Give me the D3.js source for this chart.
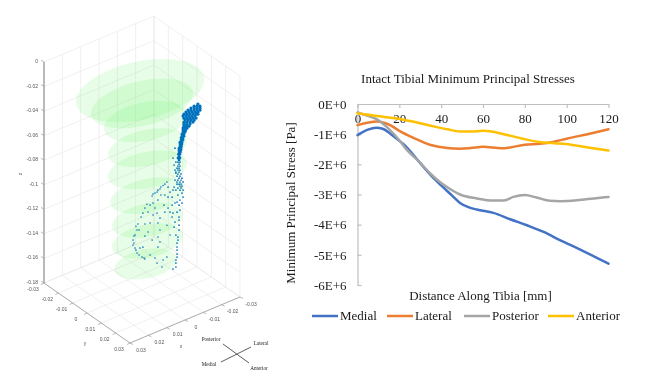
<!DOCTYPE html>
<html>
<head>
<meta charset="utf-8">
<script src="https://cdn.jsdelivr.net/npm/d3@7"></script>
<style>
    html, body { margin: 0; padding: 0; background: #fff; }
    svg { display: block; }
    .stress text { font-family: "Liberation Serif", serif; fill: #1a1a1a; }
    .stress .axis text { font-size: 13px; }
    .stress .axis line, .stress .axis path { stroke: #bfbfbf; stroke-width: 1.2; }
    .box text { font-family: "Liberation Sans", sans-serif; font-size: 5px; fill: #555; }
    .box .compass text { font-family: "Liberation Serif", serif; font-size: 5.2px; fill: #222; }
</style>
</head>
<body>
<svg id="chart" width="648" height="384"></svg>
<script>
//line chart values, stress in units of 1E+6 Pa
var medialDist = [0, 5, 9, 12, 16, 20, 22, 30, 35, 40, 45, 49, 53, 57, 65, 73, 81, 89, 97, 105, 113, 120];
var medialStress = [-1.03, -0.85, -0.79, -0.82, -1.0, -1.22, -1.33, -1.96, -2.36, -2.7, -3.02, -3.28, -3.42, -3.5, -3.61, -3.82, -4.02, -4.24, -4.52, -4.78, -5.05, -5.29];

var lateralDist = [0, 9.3, 15.6, 20, 27, 35, 43, 49, 54, 60, 69, 73, 80, 87, 94, 100, 110, 120];
var lateralStress = [-0.7, -0.58, -0.7, -0.89, -1.13, -1.36, -1.46, -1.48, -1.46, -1.42, -1.47, -1.44, -1.35, -1.32, -1.25, -1.15, -1.0, -0.84];

var posteriorDist = [0, 6, 9.3, 14.6, 20, 23, 30, 35, 40, 45, 49, 57, 65, 70, 74.5, 80, 85.6, 92, 97, 105, 113, 120];
var posteriorStress = [-0.28, -0.42, -0.51, -0.8, -1.2, -1.47, -1.95, -2.32, -2.62, -2.85, -3.0, -3.13, -3.2, -3.2, -3.08, -3.02, -3.1, -3.21, -3.22, -3.19, -3.13, -3.08];

var anteriorDist = [0, 9.3, 18, 27, 35, 43, 49, 54, 60, 70, 79, 87, 94, 102, 111, 120];
var anteriorStress = [-0.31, -0.4, -0.47, -0.59, -0.72, -0.84, -0.91, -0.91, -0.89, -1.0, -1.15, -1.26, -1.3, -1.35, -1.45, -1.54];

var seriesNames = ['Medial', 'Lateral', 'Posterior', 'Anterior'];
var seriesColors = ['#4472C4', '#ED7D31', '#A5A5A5', '#FFC000'];

var xTicks = [0, 20, 40, 60, 80, 100, 120];
var yTicks = [0, -1, -2, -3, -4, -5, -6];
var yTickLabels = ['0E+0', '-1E+6', '-2E+6', '-3E+6', '-4E+6', '-5E+6', '-6E+6'];

//3D panel ticks, metres
var boxTicks = [-0.03, -0.02, -0.01, 0, 0.01, 0.02, 0.03];
var zTicks = [0, -0.02, -0.04, -0.06, -0.08, -0.1, -0.12, -0.14, -0.16, -0.18];

//green slices of the tibia, one entry per slice
var discZ = [-0.017, -0.028, -0.044, -0.066, -0.084, -0.105, -0.125, -0.142, -0.16];
var discX = [0.001, 0, -0.002, -0.003, -0.003, -0.003, -0.003, -0.003, -0.002];
var discRx = [0.031, 0.025, 0.02, 0.019, 0.019, 0.018, 0.017, 0.017, 0.015];
var discRy = [0.021, 0.016, 0.014, 0.013, 0.013, 0.012, 0.012, 0.012, 0.0105];

//surface nodes as [x, z] in mm
var headNodes = [[-30.5,-47.6],[-28.4,-48],[-30,-49],[-31.6,-50],[-26.7,-48.5],[-28.4,-49.6],[-30,-50.6],[-31.6,-51.6],[-25.1,-49.1],[-26.7,-50.2],[-28.4,-51.2],[-30,-52.2],[-31.6,-53.3],[-24,-50.1],[-25.6,-51.1],[-27.3,-52.1],[-28.9,-53.2],[-30.5,-54.2],[-22.9,-51.1],[-24.5,-52.1],[-26.2,-53.1],[-27.8,-54.1],[-29.5,-55.2],[-30.5,-55.9],[-22.4,-52.3],[-24,-53.3],[-25.6,-54.4],[-27.3,-55.4],[-28.9,-56.4],[-22.9,-54.4],[-24.5,-55.4],[-26.2,-56.4],[-27.8,-57.4],[-29.5,-58.4],[-23.5,-56.3],[-25.1,-57.3],[-26.7,-58.3],[-28.4,-59.4],[-22.9,-57.6],[-24.5,-58.6],[-26.2,-59.6],[-27.8,-60.6],[-22.9,-59.2],[-24.5,-60.2],[-26.2,-61.2],[-22.9,-60.9],[-24.3,-61.7],[-25.6,-62.6],[-22.4,-62.1],[-23.7,-62.9],[-24.5,-63.5],[-22.4,-63.7],[-23.7,-64.6],[-22.4,-65.3],[-23.5,-66]];
var neckNodes = [[-21.8,-66.7],[-22.9,-67.4],[-21.8,-68.3],[-22.9,-69],[-21.3,-69.5],[-22.4,-70.2],[-21.3,-71.2],[-22.4,-71.9],[-20.7,-72.5],[-21.8,-73.2],[-20.7,-74.1],[-21.8,-74.8],[-20.7,-75.7],[-21.5,-76.3],[-20.2,-77.1],[-21.3,-77.7],[-20.2,-78.7],[-21.3,-79.3],[-20.2,-80.3],[-21,-80.8],[-19.9,-81.8],[-20.7,-82.3],[-20.2,-83.6],[-19.6,-84.8],[-20.7,-85.5],[-20.2,-86.8]];
var stemNodes = [[-19.6,-88.1],[-20.7,-88.8],[-20.2,-90.1],[-19.6,-91.3],[-20.7,-92],[-20.2,-93.4],[-19.1,-92.7],[-19.6,-94.6],[-20.7,-95.3],[-18,-93.6],[-20.2,-96.6],[-18.5,-95.5],[-19.6,-97.8],[-21.3,-98.8],[-20.7,-100.2],[-19.1,-99.2],[-20.2,-101.5],[-21.8,-102.5],[-21.3,-103.7],[-19.6,-102.7],[-18,-101.7],[-20.7,-105],[-22.4,-106],[-20.2,-106.4],[-21.3,-107],[-19.1,-105.7],[-21.8,-109],[-20.7,-108.3],[-21.3,-110.2],[-19.6,-109.2],[-22.4,-112.6],[-20.7,-111.6],[-18.5,-110.2],[-18,-75.7],[-16.9,-83.1],[-18.5,-87.4],[-17.5,-89.2],[-18.5,-96.3],[-17.5,-107.1],[-19.1,-104],[-21.8,-114.7],[-19.6,-114.9],[-22.4,-118.3],[-20.7,-119.7],[-19.1,-120.3],[-21.8,-122.8],[-20.2,-123.5],[-18,-120.4],[-16.4,-121.1],[-20.7,-127.8],[-19.1,-128.5],[-15.3,-126.1],[-16.9,-127.9],[-20.2,-133.2],[-16.4,-130.8],[-18,-135.9],[-20.2,-135.7],[-20.2,-139.8],[-17.5,-139.7],[-20.2,-143.8],[-18.5,-146.8],[-19.6,-149.1],[-19.1,-153.7],[-19.1,-159.4],[-19.1,-165.1],[-18.5,-169.6],[-18.5,-172.8],[-16.9,-173.5],[-19.6,-151.6],[-19.1,-156.9],[-19.1,-162.7],[-18.5,-167.1],[-14.2,-113.2],[-15.3,-109.8],[-16.9,-109.2],[-16.4,-114.6],[-14.2,-105],[-14.2,-122.1]];
var branchNodes = [[-13.6,-100.6],[-12.5,-101.6],[-11.5,-102.1],[-10.3,-102.6],[-9.8,-103.9],[-8.7,-104.1],[-8.2,-105.4],[-7.1,-105.5],[-6,-105.6],[-5.5,-106.9],[-8.7,-112.2],[-6,-112.9],[-2.7,-111.8],[-1.6,-114.3],[-0.5,-117.7],[-7.1,-117.7],[-8.2,-122.5],[-6,-122.7],[-4.4,-128.2],[-1.6,-127.3],[2.2,-124.9],[2.7,-129.5],[3.8,-132.9],[4.9,-136.3],[4.9,-140.3],[3.8,-143.5],[2.7,-148.2],[0,-153.2],[-1.6,-155.8],[1.1,-145.2],[-0.5,-145.4],[1.6,-130.1],[-8.7,-130.9],[-9.8,-137.3],[-8.7,-142.3],[-9.8,-147.1],[-8.7,-150.5],[-13.6,-161.7],[-7.1,-158.4],[-8.2,-163.2],[-10.9,-168.1],[-11.5,-162.7],[-4.4,-154.3],[4.4,-139],[3.3,-145.5],[1.6,-150.5],[-1.1,-154.7],[4.4,-133.3],[3.3,-126],[0.5,-120.2],[-3.3,-118.6],[-4.4,-113.6],[-1.6,-137.1],[-5.5,-142.8],[-3.3,-134.8],[-9.8,-127.6],[-12.5,-124.4],[-13.6,-135.7],[-15.3,-144.8],[-12,-118.4],[-12.5,-110.5],[-10.3,-109.1]];


var svg = d3.select('#chart');

drawBox();
drawStress();


//////////////////////////////////////////////////////////////////////////////////////////////

//left panel, the 3D box seen from above
function drawBox() {

    var xH = d3.scaleLinear().domain([-0.03, 0.03]).range([55, -55]);
    var xV = d3.scaleLinear().domain([-0.03, 0.03]).range([-23, 23]);
    var yH = d3.scaleLinear().domain([-0.03, 0.03]).range([-43, 43]);
    var yV = d3.scaleLinear().domain([-0.03, 0.03]).range([-30, 30]);
    var zV = d3.scaleLinear().domain([-0.18, 0]).range([0, 221]);

    function project(x, y, z) {
        return [142 + xH(x) + yH(y), 290 + xV(x) + yV(y) - zV(z)];
    }

    var g = svg.append('g').attr('class', 'box').style('filter', 'blur(0.4px)');
    var pathOf = d3.line();

    function gridLine(a, b, color, w) {
        g.append('path')
            .attr('d', pathOf([a, b]))
            .attr('fill', 'none')
            .attr('stroke', color)
            .attr('stroke-width', w);
    }

    var gridColor = '#e9e9e9';

    //floor and the two back walls
    boxTicks.forEach(function (t) {
        gridLine(project(t, -0.03, -0.18), project(t, 0.03, -0.18), gridColor, 0.7);
        gridLine(project(-0.03, t, -0.18), project(0.03, t, -0.18), gridColor, 0.7);
        gridLine(project(t, -0.03, -0.18), project(t, -0.03, 0), gridColor, 0.7);
        gridLine(project(-0.03, t, -0.18), project(-0.03, t, 0), gridColor, 0.7);
    });
    zTicks.forEach(function (t) {
        gridLine(project(0.03, -0.03, t), project(-0.03, -0.03, t), gridColor, 0.7);
        gridLine(project(-0.03, -0.03, t), project(-0.03, 0.03, t), gridColor, 0.7);
    });

    //slices
    var angles = d3.range(0, 360, 10);
    discZ.forEach(function (z, i) {
        var outline = angles.map(function (a) {
            var r = a * Math.PI / 180;
            return project(discX[i] + discRx[i] * Math.cos(r), discRy[i] * Math.sin(r), z);
        });
        g.append('path')
            .attr('d', d3.line().curve(d3.curveLinearClosed)(outline))
            .attr('fill', '#5ff25f')
            .attr('fill-opacity', 0.15);
    });

    //nodes, the packed ones at the top of the bone need a fatter dot to close up
    [[headNodes, 1.6], [neckNodes, 1.4], [stemNodes, 0.85], [branchNodes, 0.8]].forEach(function (set) {
        g.selectAll(null)
            .data(set[0])
            .enter()
            .append('circle')
            .attr('cx', function (d) { return project(d[0] / 1000, 0, d[1] / 1000)[0]; })
            .attr('cy', function (d) { return project(d[0] / 1000, 0, d[1] / 1000)[1]; })
            .attr('r', set[1])
            .attr('fill', '#0072BD');
    });

    //axis lines
    var axisColor = '#9a9a9a';
    gridLine(project(0.03, -0.03, -0.18), project(0.03, -0.03, 0), '#aaa', 1.6);
    gridLine(project(0.03, -0.03, -0.18), project(0.03, 0.03, -0.18), axisColor, 0.8);
    gridLine(project(0.03, 0.03, -0.18), project(-0.03, 0.03, -0.18), axisColor, 0.8);

    function label(p, text, anchor) {
        g.append('text')
            .attr('x', p[0])
            .attr('y', p[1])
            .attr('text-anchor', anchor || 'middle')
            .attr('dominant-baseline', 'central')
            .text(text);
    }

    zTicks.forEach(function (t) {
        var p = project(0.03, -0.03, t);
        gridLine(p, [p[0] - 3, p[1] - 2], axisColor, 0.7);
        label([p[0] - 6, p[1] - 1], String(t), 'end');
    });
    boxTicks.forEach(function (t) {
        var p = project(0.03, t, -0.18);
        gridLine(p, [p[0] - 3, p[1] + 1.5], axisColor, 0.7);
        label([p[0] - 11, p[1] + 6], String(t));
        var q = project(t, 0.03, -0.18);
        gridLine(q, [q[0] + 3, q[1] + 1.5], axisColor, 0.7);
        label([q[0] + 11, q[1] + 6.5], String(t));
    });
    label([85, 343], 'y');
    label([181, 346], 'x');
    g.append('text')
        .attr('transform', 'translate(22,174) rotate(-90)')
        .attr('text-anchor', 'middle')
        .text('z');

    //anatomical directions
    var compass = g.append('g').attr('class', 'compass');
    [[[223, 344], [249, 363]], [[221, 362], [251, 347]]].forEach(function (l) {
        compass.append('path')
            .attr('d', pathOf(l))
            .attr('stroke', '#333')
            .attr('stroke-width', 0.8);
    });
    [['Posterior', 211, 339], ['Lateral', 261, 343], ['Medial', 209, 364], ['Anterior', 259, 368]].forEach(function (c) {
        compass.append('text')
            .attr('x', c[1])
            .attr('y', c[2])
            .attr('text-anchor', 'middle')
            .attr('dominant-baseline', 'central')
            .text(c[0]);
    });
}


//right panel, the line chart
function drawStress() {

    var xScale = d3.scaleLinear().domain([0, 120]).range([357.5, 608.5]);
    var yScale = d3.scaleLinear().domain([-6, 0]).range([285, 104]);

    var g = svg.append('g').attr('class', 'stress').style('filter', 'blur(0.25px)');

    var xAxisCall = d3.axisBottom(xScale)
        .tickValues(xTicks)
        .tickSizeOuter(0)
        .tickSizeInner(4)
        .tickPadding(6);
    var yAxisCall = d3.axisLeft(yScale)
        .tickValues(yTicks)
        .tickFormat(function (d, i) { return yTickLabels[i]; })
        .tickSizeOuter(0)
        .tickSizeInner(-4)
        .tickPadding(11);

    g.append('g').attr('class', 'x axis').attr('transform', 'translate(0,104)').call(xAxisCall);
    g.append('g').attr('class', 'y axis').attr('transform', 'translate(357.5,0)').call(yAxisCall);

    g.selectAll('.axis text').style('fill', '#1a1a1a');

    var line = d3.line()
        .x(function (d) { return xScale(d[0]); })
        .y(function (d) { return yScale(d[1]); })
        .curve(d3.curveMonotoneX);

    var allDist = [medialDist, lateralDist, posteriorDist, anteriorDist];
    var allStress = [medialStress, lateralStress, posteriorStress, anteriorStress];

    seriesNames.forEach(function (name, i) {
        g.append('path')
            .attr('d', line(d3.zip(allDist[i], allStress[i])))
            .attr('fill', 'none')
            .attr('stroke', seriesColors[i])
            .attr('stroke-width', 2.5)
            .attr('stroke-linecap', 'round');
    });

    g.append('text')
        .attr('x', 468)
        .attr('y', 83)
        .attr('text-anchor', 'middle')
        .style('font-size', '13px')
        .text('Intact Tibial Minimum Principal Stresses');

    g.append('text')
        .attr('x', 480.5)
        .attr('y', 300)
        .attr('text-anchor', 'middle')
        .style('font-size', '13px')
        .text('Distance Along Tibia [mm]');

    g.append('text')
        .attr('transform', 'translate(295,203) rotate(-90)')
        .attr('text-anchor', 'middle')
        .style('font-size', '13px')
        .text('Minimum Principal Stress [Pa]');

    //legend
    var legendX = [312, 387, 464, 548];
    seriesNames.forEach(function (name, i) {
        g.append('line')
            .attr('x1', legendX[i])
            .attr('x2', legendX[i] + 26)
            .attr('y1', 316)
            .attr('y2', 316)
            .attr('stroke', seriesColors[i])
            .attr('stroke-width', 2.5);
        g.append('text')
            .attr('x', legendX[i] + 28)
            .attr('y', 320)
            .style('font-size', '13px')
            .text(name);
    });
}
</script>
</body>
</html>
